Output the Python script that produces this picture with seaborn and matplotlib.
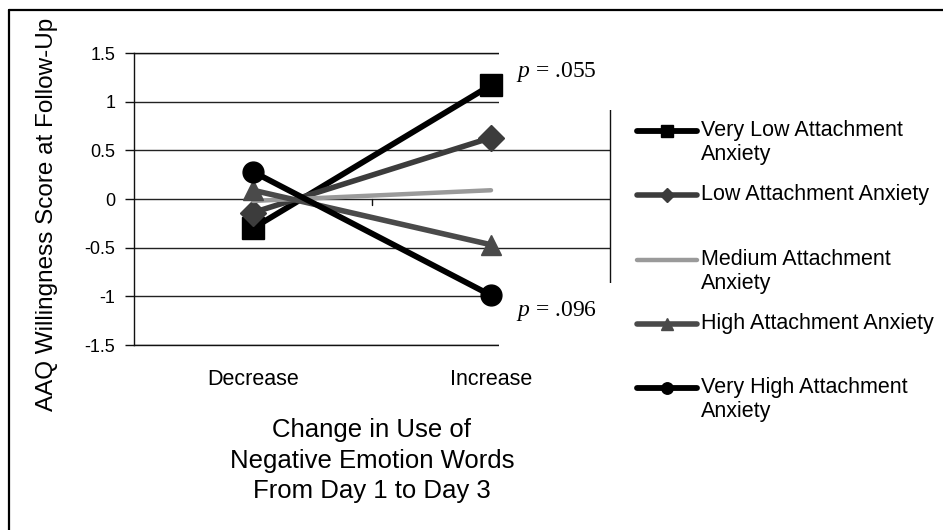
import matplotlib
matplotlib.use("Agg")
import matplotlib.pyplot as plt
from matplotlib.lines import Line2D
from matplotlib.patches import Rectangle
import seaborn as sns

# Data
categories = ['Decrease', 'Increase']
groups = ['Very Low Attachment Anxiety', 'Low Attachment Anxiety',
          'Medium Attachment Anxiety', 'High Attachment Anxiety',
          'Very High Attachment Anxiety']
very_low = [-0.30, 1.17]
low = [-0.14, 0.63]
medium = [-0.02, 0.09]
high = [0.09, -0.47]
very_high = [0.28, -0.99]
yticks = [-1.5, -1, -0.5, 0, 0.5, 1, 1.5]
ytick_labels = ['-1.5', '-1', '-0.5', '0', '0.5', '1', '1.5']
legend_labels = ['Very Low Attachment\nAnxiety', 'Low Attachment Anxiety',
                 'Medium Attachment\nAnxiety', 'High Attachment Anxiety',
                 'Very High Attachment\nAnxiety']

series = [very_low, low, medium, high, very_high]
colors = ['#000000', '#3c3c3c', '#9a9a9a', '#4a4a4a', '#000000']
markers = ['s', 'D', None, '^', 'o']
msizes = [16, 13, 0, 15, 15]
widths = [4.2, 4.0, 3.2, 4.0, 4.2]

sns.set_style("white")
plt.rcParams['font.family'] = ['Liberation Sans', 'DejaVu Sans']
plt.rcParams['text.color'] = 'black'
plt.rcParams['axes.labelcolor'] = 'black'
plt.rcParams['xtick.color'] = 'black'
plt.rcParams['ytick.color'] = 'black'
plt.rcParams['mathtext.fontset'] = 'custom'
plt.rcParams['mathtext.it'] = 'Liberation Serif:italic'
plt.rcParams['mathtext.rm'] = 'Liberation Serif'

fig = plt.figure(figsize=(9.43, 5.30), dpi=100)
ax = fig.add_axes([134 / 943, 1 - 345 / 530, 476 / 943, 292 / 530])

for vals, name, col, mk, ms, lw in zip(series, groups, colors, markers, msizes, widths):
    sns.lineplot(x=categories, y=vals, ax=ax, sort=False, color=col, marker=mk,
                 markersize=ms, markeredgecolor=col, markerfacecolor=col,
                 markeredgewidth=1, linewidth=lw, label=name, zorder=3)

ax.set_xlim(-0.5, 1.5)
ax.set_ylim(-1.5, 1.5)
ax.set_yticks(yticks)
ax.set_yticklabels(ytick_labels)
ax.yaxis.grid(True, color='#222222', linewidth=1)
ax.xaxis.grid(False)
ax.set_axisbelow(True)
for sp in ax.spines.values():
    sp.set_visible(True)
    sp.set_color('#111111')
    sp.set_linewidth(1)
ax.tick_params(axis='y', direction='out', length=6.5, width=1, color='#111111',
               pad=7, labelsize=13, left=True, labelcolor='black')
ax.tick_params(axis='x', length=0, pad=17, labelsize=15.5, labelcolor='black')
# small category-axis tick at the zero line
ax.axvline(0.5, ymin=0.479, ymax=0.5, color='#111111', linewidth=1, zorder=2)

ax.set_ylabel('AAQ Willingness Score at Follow-Up', fontsize=17.5, va='center',
              color='black')
ax.yaxis.set_label_coords(-0.183, 0.449)
ax.set_xlabel('Change in Use of\nNegative Emotion Words\nFrom Day 1 to Day 3',
              fontsize=18.5, linespacing=1.35, va='top', color='black')
ax.xaxis.set_label_coords(0.5, -0.25)

# white label boxes that hide the right part of the plot area
ax.add_patch(Rectangle((0.767, 0.805), 0.28, 0.25, transform=ax.transAxes,
                       facecolor='white', edgecolor='none', clip_on=False, zorder=2.6))
ax.add_patch(Rectangle((0.767, -0.06), 0.28, 0.272, transform=ax.transAxes,
                       facecolor='white', edgecolor='none', clip_on=False, zorder=2.6))
ax.text(0.8025, 0.935, r'$p$ = .055', transform=ax.transAxes, fontsize=17,
        va='center', ha='left', family='Liberation Serif', color='black', zorder=5)
ax.text(0.8025, 0.116, r'$p$ = .096', transform=ax.transAxes, fontsize=17,
        va='center', ha='left', family='Liberation Serif', color='black', zorder=5)

# legend: pad every label to three lines so the handle sits on the first line
handles, _ = ax.get_legend_handles_labels()
padded = ['\n' + lab + ('' if '\n' in lab else '\n') for lab in legend_labels]
leg = ax.legend(handles, padded, loc='upper left', bbox_to_anchor=(637 / 943, 0.819),
                bbox_transform=fig.transFigure, frameon=False, borderpad=0,
                borderaxespad=0, handlelength=2.8, handletextpad=0.15,
                labelspacing=-0.24, markerscale=0.55, fontsize=15.5)
for t in leg.get_texts():
    t.set_color('black')

# outer chart frame (cropped on the right and bottom)
fig.add_artist(Line2D([9 / 943, 1], [1 - 10 / 530, 1 - 10 / 530],
                      transform=fig.transFigure, color='black', linewidth=1.6))
fig.add_artist(Line2D([9 / 943, 9 / 943], [0, 1 - 10 / 530],
                      transform=fig.transFigure, color='black', linewidth=1.6))

fig.savefig('out.png', dpi=100)
